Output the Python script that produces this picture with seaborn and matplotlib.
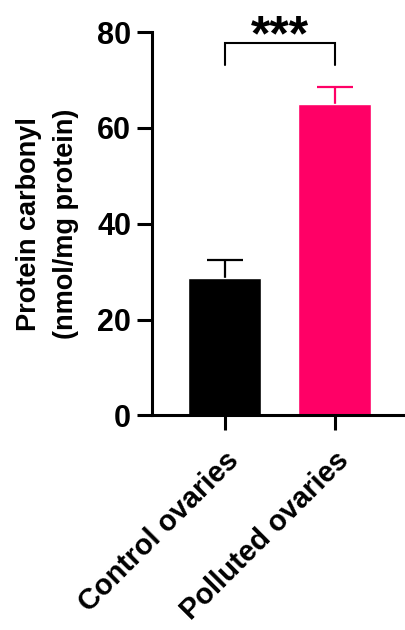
import matplotlib
matplotlib.use("Agg")
import matplotlib.pyplot as plt
import seaborn as sns
import pandas as pd

# Group means and SEM (nmol/mg protein)
groups = ["Control ovaries", "Polluted ovaries"]
means = [28.7, 65.0]
sems = [3.8, 3.5]
colors = ["#000000", "#FF0066"]
yticks = [0, 20, 40, 60, 80]
sig_label = "***"

sns.set_theme(style="white")
plt.rcParams["font.family"] = ["Liberation Sans", "DejaVu Sans"]
plt.rcParams["font.weight"] = "bold"
plt.rcParams["text.color"] = "black"

df = pd.DataFrame({"group": groups, "value": means})

fig = plt.figure(figsize=(4.05, 6.30), dpi=100)
ax = fig.add_axes([0.375, 0.3405, 0.625, 0.6087])

sns.barplot(data=df, x="group", y="value", hue="group", palette=colors,
            width=0.664, legend=False, ax=ax, errorbar=None, saturation=1,
            zorder=2)

# upper-only SEM whiskers, drawn beneath the bars
for i, (m, s, c) in enumerate(zip(means, sems, colors)):
    ax.errorbar(i, m, yerr=[[s], [s]], fmt="none", ecolor=c,
                elinewidth=1.6, capsize=13, capthick=1.6, zorder=1)

ax.set_xlim(-0.664, 1.64)
ax.set_ylim(0, 80)
ax.set_yticks(yticks)
ax.set_xlabel("")
ax.set_ylabel("Protein carbonyl\n(nmol/mg protein)", fontsize=19.5,
              fontweight="bold", labelpad=13, linespacing=1.55, color="black")

for side in ["top", "right"]:
    ax.spines[side].set_visible(False)
for side in ["left", "bottom"]:
    ax.spines[side].set_linewidth(2.2)
    ax.spines[side].set_color("black")

ax.tick_params(axis="y", direction="out", length=11, width=2.2,
               labelsize=22, pad=4, left=True, colors="black")
ax.tick_params(axis="x", direction="out", length=11, width=2.2,
               labelsize=21, pad=11, bottom=True, colors="black")
for lab in ax.get_yticklabels():
    lab.set_fontweight("bold")
ax.set_xticks(range(len(groups)))
ax.set_xticklabels(groups, rotation=45, ha="right", rotation_mode="anchor",
                   fontweight="bold")

# significance bracket between the two groups
y_top, y_leg = 77.8, 73.2
ax.plot([0, 0, 1, 1], [y_leg, y_top, y_top, y_leg], color="black",
        lw=1.5, clip_on=False, solid_joinstyle="miter", zorder=3)
ax.text(0.5, 76.2, sig_label, ha="center", va="baseline", color="black",
        fontsize=36, fontweight="bold", clip_on=False, zorder=3)

fig.savefig("out.png", dpi=100)
